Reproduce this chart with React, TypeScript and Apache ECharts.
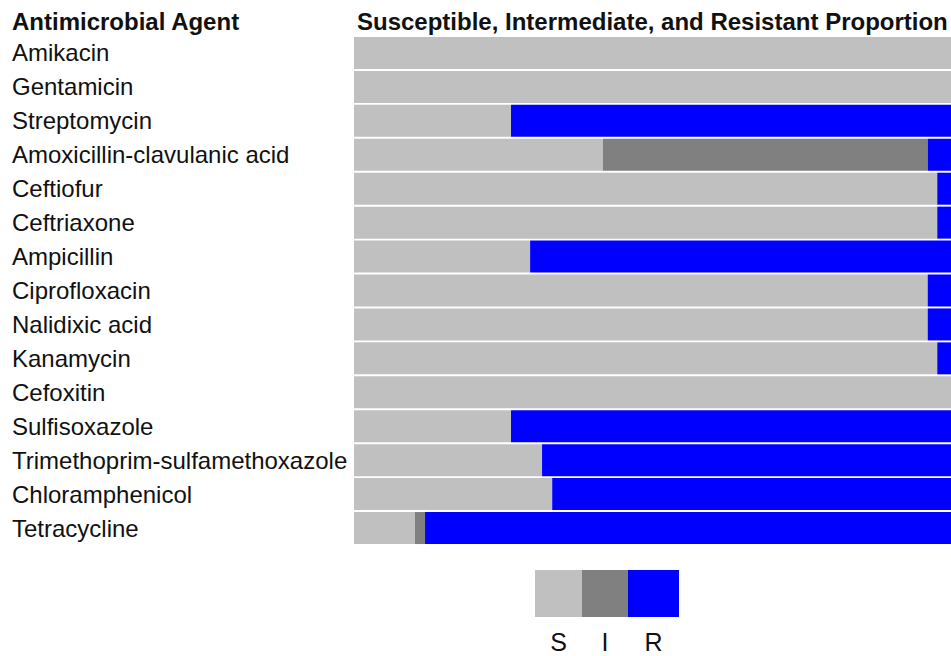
import React, { useEffect, useRef } from "react";
import * as echarts from "echarts";

const categories = [
  "Amikacin",
  "Gentamicin",
  "Streptomycin",
  "Amoxicillin-clavulanic acid",
  "Ceftiofur",
  "Ceftriaxone",
  "Ampicillin",
  "Ciprofloxacin",
  "Nalidixic acid",
  "Kanamycin",
  "Cefoxitin",
  "Sulfisoxazole",
  "Trimethoprim-sulfamethoxazole",
  "Chloramphenicol",
  "Tetracycline",
];
const susceptible = [100, 100, 26.3, 41.7, 97.7, 97.7, 29.5, 96.1, 96.1, 97.7, 100, 26.3, 31.5, 33.2, 10.2];
const intermediate = [0, 0, 0, 54.4, 0, 0, 0, 0, 0, 0, 0, 0, 0, 0, 1.7];
const resistant = [0, 0, 73.7, 3.9, 2.3, 2.3, 70.5, 3.9, 3.9, 2.3, 0, 73.7, 68.5, 66.8, 88.1];
const seriesNames = ["S", "I", "R"];
const seriesColors = ["#c0c0c0", "#808080", "#0000ff"];
const leftHeader = "Antimicrobial Agent";
const rightHeader = "Susceptible, Intermediate, and Resistant Proportion";

const FONT = "'Liberation Sans', Arial, sans-serif";

export default function App() {
  const ref = useRef<HTMLDivElement>(null);
  useEffect(() => {
    if (!ref.current) return;
    const chart = echarts.init(ref.current, null, { renderer: "svg" });
    const values = [susceptible, intermediate, resistant];
    const legendX = [535, 582, 628];
    const legendW = [47, 46, 51];
    chart.setOption({
      animation: false,
      backgroundColor: "#ffffff",
      textStyle: { fontFamily: FONT },
      title: [
        {
          text: leftHeader,
          left: 12,
          top: 9,
          padding: 0,
          textStyle: { fontFamily: FONT, fontSize: 24, fontWeight: "bold", color: "#111111" },
        },
        {
          text: rightHeader,
          left: 357,
          top: 9,
          padding: 0,
          textStyle: { fontFamily: FONT, fontSize: 24, fontWeight: "bold", color: "#111111" },
        },
      ],
      grid: { left: 354, right: 0, top: 36, bottom: 111, containLabel: false },
      xAxis: {
        type: "value",
        min: 0,
        max: 100,
        show: false,
      },
      yAxis: {
        type: "category",
        data: categories,
        inverse: true,
        axisLine: { show: false },
        axisTick: { show: false },
        splitLine: { show: false },
        axisLabel: {
          align: "left",
          margin: 342,
          padding: [6, 0, 0, 0],
          fontFamily: FONT,
          fontSize: 24,
          color: "#111111",
        },
      },
      series: seriesNames.map((name, i) => ({
        name,
        type: "bar",
        stack: "total",
        barWidth: 32,
        data: values[i],
        itemStyle: { color: seriesColors[i] },
      })),
      graphic: [
        ...seriesNames.map((name, i) => ({
          type: "rect",
          shape: { x: legendX[i], y: 570, width: legendW[i], height: 47 },
          style: { fill: seriesColors[i] },
        })),
        ...seriesNames.map((name, i) => ({
          type: "text",
          x: legendX[i] + legendW[i] / 2,
          y: 642,
          style: {
            text: name,
            fontFamily: FONT,
            fontSize: 25,
            fill: "#111111",
            textAlign: "center",
            textVerticalAlign: "middle",
          },
        })),
      ],
    });
    return () => chart.dispose();
  }, []);
  return (
    <div
      ref={ref}
      style={{ position: "fixed", left: 0, top: 0, width: 951, height: 656 }}
    />
  );
}
